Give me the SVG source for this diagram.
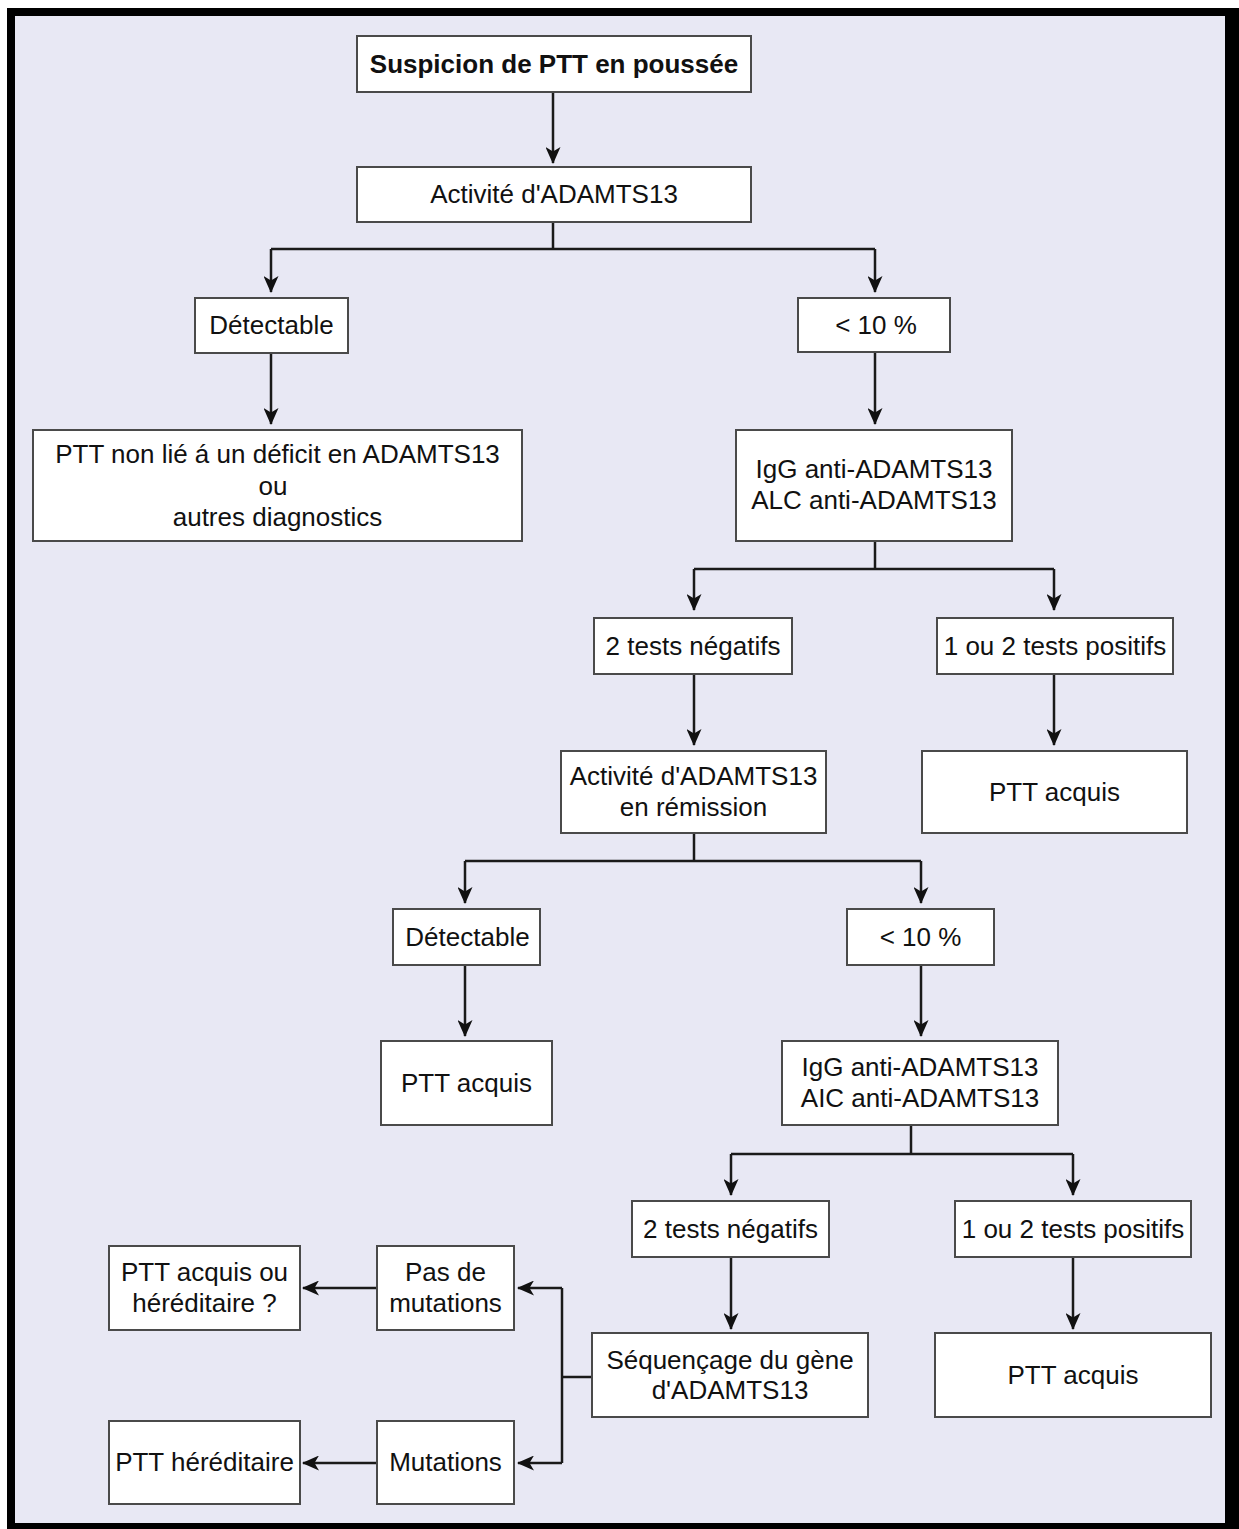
<svg xmlns="http://www.w3.org/2000/svg" width="1239" height="1529" viewBox="0 0 1239 1529">
<style>
.box{fill:#fff;stroke:#4a4a4a;stroke-width:2}
.t{font-family:"Liberation Sans",Arial,sans-serif;font-size:26px;fill:#111;text-anchor:middle}
.b{font-weight:bold}
.c{fill:none;stroke:#1a1a1a;stroke-width:2.5}
</style>
<defs>
<marker id="ah" markerUnits="userSpaceOnUse" markerWidth="17" markerHeight="15" viewBox="0 0 17 15" refX="16" refY="7.5" orient="auto">
<path d="M0,0 L17,7.5 L0,15 L4.5,7.5 z" fill="#111"/>
</marker>
</defs>
<rect x="0" y="0" width="1239" height="1529" fill="#fff"/>
<rect x="7" y="8" width="1232" height="1521" fill="#000"/>
<rect x="15" y="16" width="1210" height="1507" fill="#e8e8f4"/>

<g id="connectors">
<path class="c" d="M553,92 V163" marker-end="url(#ah)"/>
<path class="c" d="M553,222 V249 M271,249 H875"/>
<path class="c" d="M271,249 V292" marker-end="url(#ah)"/>
<path class="c" d="M875,249 V292" marker-end="url(#ah)"/>
<path class="c" d="M271,353 V424" marker-end="url(#ah)"/>
<path class="c" d="M875,352 V424" marker-end="url(#ah)"/>
<path class="c" d="M875,541 V569 M694,569 H1054"/>
<path class="c" d="M694,569 V610" marker-end="url(#ah)"/>
<path class="c" d="M1054,569 V610" marker-end="url(#ah)"/>
<path class="c" d="M694,674 V745" marker-end="url(#ah)"/>
<path class="c" d="M1054,674 V745" marker-end="url(#ah)"/>
<path class="c" d="M694,833 V861 M465,861 H921"/>
<path class="c" d="M465,861 V903" marker-end="url(#ah)"/>
<path class="c" d="M921,861 V903" marker-end="url(#ah)"/>
<path class="c" d="M465,965 V1036" marker-end="url(#ah)"/>
<path class="c" d="M921,965 V1036" marker-end="url(#ah)"/>
<path class="c" d="M911,1125 V1154 M731,1154 H1073"/>
<path class="c" d="M731,1154 V1195" marker-end="url(#ah)"/>
<path class="c" d="M1073,1154 V1195" marker-end="url(#ah)"/>
<path class="c" d="M731,1257 V1329" marker-end="url(#ah)"/>
<path class="c" d="M1073,1257 V1329" marker-end="url(#ah)"/>
<path class="c" d="M592,1377 H562 M562,1288 V1463"/>
<path class="c" d="M562,1288 H518" marker-end="url(#ah)"/>
<path class="c" d="M562,1463 H518" marker-end="url(#ah)"/>
<path class="c" d="M377,1288 H303" marker-end="url(#ah)"/>
<path class="c" d="M377,1463 H303" marker-end="url(#ah)"/>
</g>

<g id="n1"><rect class="box" x="357" y="36" width="394" height="56"/><text class="t b" x="554" y="73">Suspicion de PTT en poussée</text></g>
<g id="n2"><rect class="box" x="357" y="167" width="394" height="55"/><text class="t" x="554" y="203">Activité d'ADAMTS13</text></g>
<g id="n3"><rect class="box" x="195" y="298" width="153" height="55"/><text class="t" x="271.5" y="334">Détectable</text></g>
<g id="n4"><rect class="box" x="798" y="298" width="152" height="54"/><text class="t" x="876" y="334">&lt; 10 %</text></g>
<g id="n5"><rect class="box" x="33" y="430" width="489" height="111"/><text class="t" x="277.5" y="463">PTT non lié á un déficit en ADAMTS13</text><text class="t" x="273" y="495">ou</text><text class="t" x="277.5" y="526">autres diagnostics</text></g>
<g id="n6"><rect class="box" x="736" y="430" width="276" height="111"/><text class="t" x="874" y="478">IgG anti-ADAMTS13</text><text class="t" x="874" y="509">ALC anti-ADAMTS13</text></g>
<g id="n7"><rect class="box" x="594" y="618" width="198" height="56"/><text class="t" x="693" y="655">2 tests négatifs</text></g>
<g id="n8"><rect class="box" x="937" y="618" width="236" height="56"/><text class="t" x="1055" y="655">1 ou 2 tests positifs</text></g>
<g id="n9"><rect class="box" x="561" y="751" width="265" height="82"/><text class="t" x="693.5" y="785">Activité d'ADAMTS13</text><text class="t" x="693.5" y="816">en rémission</text></g>
<g id="n10"><rect class="box" x="922" y="751" width="265" height="82"/><text class="t" x="1054.5" y="801">PTT acquis</text></g>
<g id="n11"><rect class="box" x="393" y="909" width="147" height="56"/><text class="t" x="467.5" y="946">Détectable</text></g>
<g id="n12"><rect class="box" x="847" y="909" width="147" height="56"/><text class="t" x="920.5" y="946">&lt; 10 %</text></g>
<g id="n13"><rect class="box" x="381" y="1041" width="171" height="84"/><text class="t" x="466.5" y="1092">PTT acquis</text></g>
<g id="n14"><rect class="box" x="782" y="1041" width="276" height="84"/><text class="t" x="920" y="1076">IgG anti-ADAMTS13</text><text class="t" x="920" y="1107">AIC anti-ADAMTS13</text></g>
<g id="n15"><rect class="box" x="632" y="1201" width="197" height="56"/><text class="t" x="730.5" y="1238">2 tests négatifs</text></g>
<g id="n16"><rect class="box" x="955" y="1201" width="236" height="56"/><text class="t" x="1073" y="1238">1 ou 2 tests positifs</text></g>
<g id="n17"><rect class="box" x="592" y="1333" width="276" height="84"/><text class="t" x="730" y="1369">Séquençage du gène</text><text class="t" x="730" y="1399">d'ADAMTS13</text></g>
<g id="n18"><rect class="box" x="935" y="1333" width="276" height="84"/><text class="t" x="1073" y="1384">PTT acquis</text></g>
<g id="n19"><rect class="box" x="377" y="1246" width="137" height="84"/><text class="t" x="445.5" y="1281">Pas de</text><text class="t" x="445.5" y="1312">mutations</text></g>
<g id="n20"><rect class="box" x="377" y="1421" width="137" height="83"/><text class="t" x="445.5" y="1471">Mutations</text></g>
<g id="n21"><rect class="box" x="109" y="1246" width="191" height="84"/><text class="t" x="204.5" y="1281">PTT acquis ou</text><text class="t" x="204.5" y="1312">héréditaire ?</text></g>
<g id="n22"><rect class="box" x="109" y="1421" width="191" height="83"/><text class="t" x="204.5" y="1471">PTT héréditaire</text></g>
</svg>
